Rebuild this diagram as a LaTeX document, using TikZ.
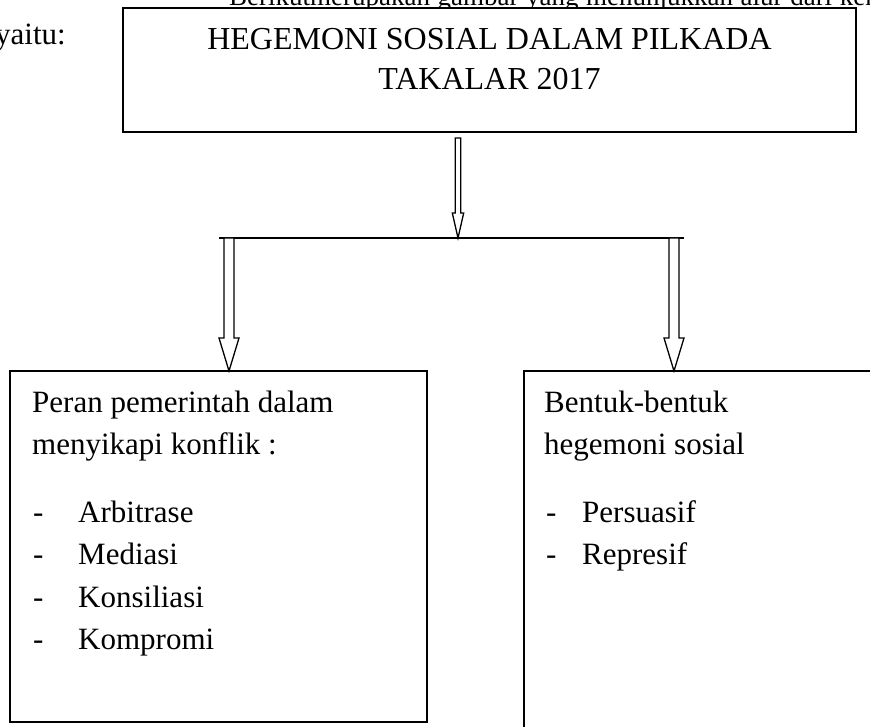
\documentclass[tikz,border=0pt]{standalone}
\usepackage{fontspec}
\setmainfont{Liberation Serif}
\newfontfamily\bodyf{Liberation Serif}
\usetikzlibrary{calc}
\tikzset{
  box/.style={draw, line width=2pt, fill=white, rectangle, inner sep=0pt, outer sep=0pt},
  txt/.style={anchor=base west, inner sep=0pt, font=\bodyf\fontsize{31}{36}\selectfont},
  introtxt/.style={anchor=base west, inner sep=0pt, font=\bodyf\fontsize{27}{32}\selectfont},
  headtxt/.style={anchor=base, inner sep=0pt, font=\bodyf\fontsize{32}{38}\selectfont},
  blockarrow/.style={draw, line width=1.3pt, fill=white, line join=miter},
  bar/.style={line width=1.6pt},
}
\newcommand\hollowarrow[5]{%
  \draw[blockarrow] ($(#1)+(-#3,0)$) -- ($(#1)+(#3,0)$) -- ($(#2)+(#3,-#5)$)
    -- ($(#2)+(#4,-#5)$) -- (#2) -- ($(#2)+(-#4,-#5)$) -- ($(#2)+(-#3,-#5)$) -- cycle;}
\begin{document}
\begin{tikzpicture}[x=1pt,y=-1pt]
\useasboundingbox (0,0) rectangle (870,727);
\clip (0,0) rectangle (870,727);
% text above the frame, cut by the page edge
\node[introtxt] (intro) at (229,6) {\makebox[645pt][s]{Berikutmerupakan gambar yang menunjukkan alur dari ker}};
\node[txt] (yaitu) at (-5,45) {yaitu:};
% top box
\node[box, minimum width=733pt, minimum height=124pt] (top) at (489.5,70) {};
\node[headtxt] (h1) at (489.5,50) {HEGEMONI SOSIAL DALAM PILKADA};
\node[headtxt] (h2) at (489.5,90) {TAKALAR 2017};
% bottom boxes
\node[box, minimum width=417pt, minimum height=351pt] (left) at (218.5,546.5) {};
\node[box, minimum width=380pt, minimum height=400pt] (right) at (714,571) {};
% connectors
\coordinate (a0) at (458,138);
\coordinate (bm) at (458,238);
\coordinate (bl) at (219,238);
\coordinate (br) at (684,238);
\coordinate (l0) at (229,238);
\coordinate (r0) at (674,238);
\coordinate (lt) at (229,371);
\coordinate (rt) at (674,371);
\draw[bar] (bl) -- (br);
\hollowarrow{a0}{bm}{2.7}{5.7}{25}
\hollowarrow{l0}{lt}{5}{10}{33}
\hollowarrow{r0}{rt}{5}{10}{33}
% left box text
\node[txt] (p1) at (32,412) {Peran pemerintah dalam};
\node[txt] (p2) at (32,454.5) {menyikapi konflik :};
\node[txt] (d1) at (33,522) {-};
\node[txt] (i1) at (78,522) {Arbitrase};
\node[txt] (d2) at (33,564.5) {-};
\node[txt] (i2) at (78,564.5) {Mediasi};
\node[txt] (d3) at (33,607) {-};
\node[txt] (i3) at (78,607) {Konsiliasi};
\node[txt] (d4) at (33,649.5) {-};
\node[txt] (i4) at (78,649.5) {Kompromi};
% right box text
\node[txt] (q1) at (544,412) {Bentuk-bentuk};
\node[txt] (q2) at (544,454.5) {hegemoni sosial};
\node[txt] (e1) at (546,522) {-};
\node[txt] (j1) at (582,522) {Persuasif};
\node[txt] (e2) at (546,564.5) {-};
\node[txt] (j2) at (582,564.5) {Represif};
\end{tikzpicture}
\end{document}
